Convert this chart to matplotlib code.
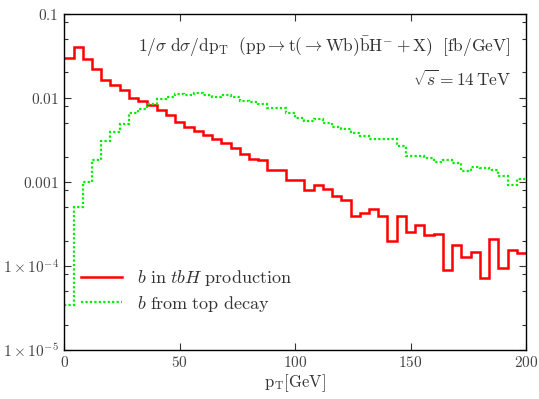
import numpy as np
import matplotlib
matplotlib.use("Agg")
import matplotlib.pyplot as plt
from matplotlib.ticker import FixedLocator, FixedFormatter, NullFormatter

plt.rcParams["mathtext.fontset"] = "cm"
plt.rcParams["font.family"] = "serif"

# pT bins, 4 GeV wide
pt_edges = np.linspace(0, 200, 51)

# b in tbH production
b_tbh = [
    0.0300, 0.0406, 0.0287, 0.0219, 0.0163, 0.01423, 0.01241, 0.01006, 0.00927, 0.00824,
    0.00718, 0.00627, 0.00513, 0.00455, 0.00408, 0.00362, 0.00322, 0.00289, 0.00256, 0.00214,
    0.00187, 0.00180, 0.00139, 0.00139, 0.00104, 0.00104, 0.000806, 0.000906, 0.000821, 0.000684,
    0.000612, 0.000388, 0.000426, 0.000475, 0.000396, 0.000196, 0.000396, 0.000253, 0.000303, 0.000235,
    0.000240, 8.9e-5, 0.000176, 0.000126, 0.000147, 7.2e-5, 0.000211, 9.4e-5, 0.000153, 0.000143,
]

# b from top decay
b_top = [
    3.40e-5, 0.000497, 0.00100, 0.00183, 0.00310, 0.00394, 0.00490, 0.00667, 0.00732, 0.00839,
    0.00962, 0.01016, 0.01112, 0.01082, 0.01135, 0.01082, 0.01016, 0.01091, 0.01016, 0.00927,
    0.00887, 0.00846, 0.00752, 0.00752, 0.00667, 0.00582, 0.00536, 0.00557, 0.00499, 0.00443,
    0.00424, 0.00376, 0.00353, 0.00325, 0.00325, 0.00323, 0.00268, 0.00204, 0.00201, 0.00192,
    0.00170, 0.00183, 0.00167, 0.00136, 0.00152, 0.00146, 0.00139, 0.00118, 0.000924, 0.00109,
]

y_ticks = [1e-5, 1e-4, 1e-3, 1e-2, 1e-1]
y_labels = [r"$1\times10^{-5}$", r"$1\times10^{-4}$", r"$0.001$", r"$0.01$", r"$0.1$"]
x_ticks = [0, 50, 100, 150, 200]

fig = plt.figure(figsize=(5.39, 3.99), dpi=100)
ax = fig.add_axes([0.1193, 0.1228, 0.8566, 0.8429])

ax.stairs(b_tbh, pt_edges, baseline=None, color="#ff0000", lw=1.8,
          label=r"$b\ \mathrm{in}\ tbH\ \mathrm{production}$")
ax.stairs(b_top, pt_edges, baseline=None, color="#00ee00", lw=1.6, ls=(0, (1, 1)),
          label=r"$b\ \mathrm{from\ top\ decay}$")

ax.set_yscale("log")
ax.set_xlim(0, 200)
ax.set_ylim(1e-5, 0.1)

ax.yaxis.set_major_locator(FixedLocator(y_ticks))
ax.yaxis.set_major_formatter(FixedFormatter(y_labels))
minor = [m * 10.0 ** e for e in range(-5, -1) for m in (2, 5, 8)]
ax.yaxis.set_minor_locator(FixedLocator(minor))
ax.yaxis.set_minor_formatter(NullFormatter())
ax.xaxis.set_major_locator(FixedLocator(x_ticks))
ax.xaxis.set_major_formatter(FixedFormatter([rf"${v}$" for v in x_ticks]))

ax.tick_params(which="both", direction="in", top=True, right=True, labelsize=11,
               colors="#333333", labelcolor="#444444")
ax.tick_params(which="major", length=5, width=0.8)
ax.tick_params(which="minor", length=3, width=0.8)
ax.tick_params(axis="y", pad=4)
for s in ax.spines.values():
    s.set_linewidth(1.0)

ax.set_xlabel(r"$\mathrm{p_T[GeV]}$", fontsize=12, color="#333333", labelpad=2)

ax.text(0.967, 0.902,
        r"$1/\sigma\ \mathrm{d}\sigma/\mathrm{dp_T}\ \ (\mathrm{pp}\to\mathrm{t}(\to\mathrm{Wb})"
        r"\bar{\mathrm{b}}\mathrm{H}^{-}+\mathrm{X})\ \ [\mathrm{fb/GeV}]$",
        transform=ax.transAxes, ha="right", va="center", fontsize=12.5, color="#333333")
ax.text(0.967, 0.803, r"$\sqrt{s}=14\,\mathrm{TeV}$",
        transform=ax.transAxes, ha="right", va="center", fontsize=12.5, color="#333333")

ax.legend(loc="lower left", bbox_to_anchor=(0.0, 0.06), frameon=False, fontsize=13,
          handlelength=2.3, handletextpad=0.8, labelspacing=0.3, labelcolor="#333333")

fig.savefig("out.png", dpi=100)
